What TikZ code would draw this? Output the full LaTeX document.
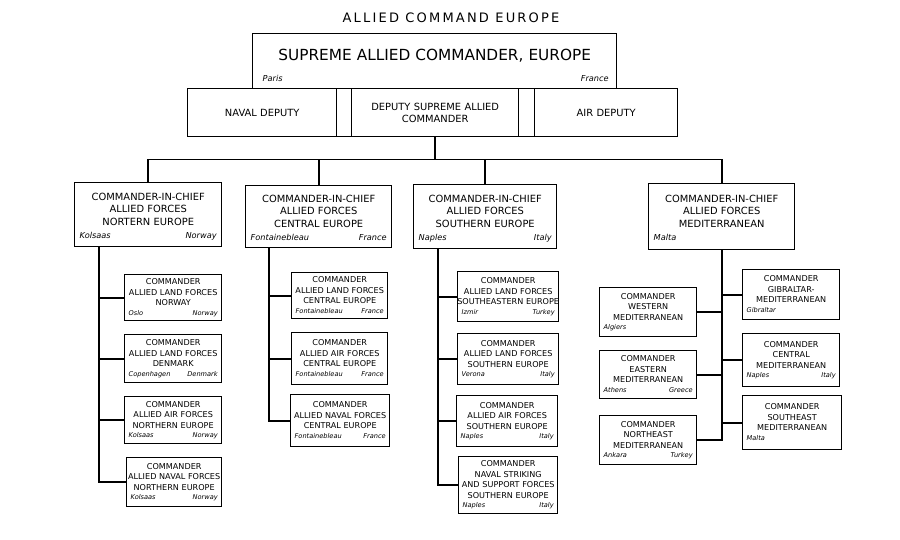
\documentclass[tikz,border=0pt]{standalone}
\usepackage{fontspec}
\setmainfont{DejaVu Sans}
\newcommand{\bigcity}[2]{{\fontsize{8.2}{9}\selectfont\itshape\hspace*{4pt}#1\hfill#2\hspace*{4pt}\rule[-2pt]{0pt}{2pt}}}
\newcommand{\smallcity}[2]{{\fontsize{6.6}{8}\selectfont\itshape\hspace*{3pt}#1\hfill#2\hspace*{3pt}\rule[-1.8pt]{0pt}{1.8pt}}}

\begin{document}
\begin{tikzpicture}[x=1pt, y=-1pt,
  link/.style={line width=1.6pt},
  orgbox/.style 2 args={draw, line width=1.4pt, anchor=north west, inner xsep=1pt, inner ysep=0pt, align=center,
    minimum width=#1pt, minimum height=#2pt, /utils/exec={\pgfmathsetlengthmacro\boxtw{#1pt-2pt}}, text width=\boxtw},
  chief/.style 2 args={orgbox={#1}{#2}, font=\fontsize{9.9}{12.5}\selectfont},
  cmd/.style 2 args={orgbox={#1}{#2}, font=\fontsize{8.1}{10.6}\selectfont}]
\useasboundingbox (0,0) rectangle (900,540);

% top of the command
\node[font=\fontsize{13}{15}\selectfont\addfontfeature{LetterSpace=17}] (title) at (451,18) {ALLIED COMMAND EUROPE};
\node[orgbox={364}{55}, font=\fontsize{15.3}{18.4}\selectfont] (saceur) at (252,33)
  {\rule{0pt}{22pt}SUPREME ALLIED COMMANDER, EUROPE\\[2pt]{\fontsize{8.2}{9}\selectfont\itshape\hspace*{9pt}Paris\hfill France\hspace*{7pt}\rule[-2pt]{0pt}{2pt}}};
\node[chief={149}{48}] (navdep) at (187,88) {NAVAL DEPUTY};
\node[chief={198}{48}] (dsacbar) at (336,88) {};
\node[chief={167}{48}] (dsac) at (351,88) {DEPUTY SUPREME ALLIED\\COMMANDER};
\node[chief={143}{48}] (airdep) at (534,88) {AIR DEPUTY};

% major subordinate commands
\node[chief={147}{64}] (afnorth) at (74,182) {\rule{0pt}{12pt}COMMANDER-IN-CHIEF\\ALLIED FORCES\\NORTERN EUROPE\\[1pt]\bigcity{Kolsaas}{Norway}};
\node[chief={146}{62}] (afcent) at (245,185) {\rule{0pt}{12pt}COMMANDER-IN-CHIEF\\ALLIED FORCES\\CENTRAL EUROPE\\[1pt]\bigcity{Fontainebleau}{France}};
\node[chief={143}{64}] (afsouth) at (413,184) {\rule{0pt}{12pt}COMMANDER-IN-CHIEF\\ALLIED FORCES\\SOUTHERN EUROPE\\[1pt]\bigcity{Naples}{Italy}};
\node[chief={146}{66}] (afmed) at (648,183) {\rule{0pt}{12pt}COMMANDER-IN-CHIEF\\ALLIED FORCES\\MEDITERRANEAN\\[1pt]\bigcity{Malta}{\mbox{}}};

\coordinate (bus) at ([yshift=-22pt]dsac.south);
\draw[link] (dsac.south) -- (bus);
\draw[link] (afnorth.north) |- (bus) -| (afmed.north);
\draw[link] (afcent.north) -- (afcent.north |- bus);
\draw[link] (afsouth.north) -- (afsouth.north |- bus);

% northern europe
\node[cmd={97}{46}] (lfnor) at (124,274) {COMMANDER\\ALLIED LAND FORCES\\NORWAY\\[-1.2pt]\smallcity{Oslo}{Norway}};
\node[cmd={97}{48}] (lfden) at (124,334) {COMMANDER\\ALLIED LAND FORCES\\DENMARK\\[-1.2pt]\smallcity{Copenhagen}{Denmark}};
\node[cmd={97}{47}] (aanorth) at (124,396) {COMMANDER\\ALLIED AIR FORCES\\NORTHERN EUROPE\\[-1.2pt]\smallcity{Kolsaas}{Norway}};
\node[cmd={95}{49}] (navnorth) at (126,457) {COMMANDER\\ALLIED NAVAL FORCES\\NORTHERN EUROPE\\[-1.2pt]\smallcity{Kolsaas}{Norway}};
\coordinate (ntrunk) at ([xshift=25pt]afnorth.south west);
\draw[link] (ntrunk) |- (navnorth.west);
\foreach \k in {lfnor,lfden,aanorth}
  \draw[link] (\k.west) -- (\k.west -| ntrunk);

% central europe
\node[cmd={96}{46}] (lfcent) at (291,272) {COMMANDER\\ALLIED LAND FORCES\\CENTRAL EUROPE\\[-1.2pt]\smallcity{Fontainebleau}{France}};
\node[cmd={96}{52}] (aacent) at (291,332) {COMMANDER\\ALLIED AIR FORCES\\CENTRAL EUROPE\\[-1.2pt]\smallcity{Fontainebleau}{France}};
\node[cmd={99}{52}] (navcent) at (290,394) {COMMANDER\\ALLIED NAVAL FORCES\\CENTRAL EUROPE\\[-1.2pt]\smallcity{Fontainebleau}{France}};
\coordinate (ctrunk) at ([xshift=24pt]afcent.south west);
\draw[link] (ctrunk) |- (navcent.west);
\foreach \k in {lfcent,aacent}
  \draw[link] (\k.west) -- (\k.west -| ctrunk);

% southern europe
\node[cmd={101}{50}] (lfse) at (457,271) {COMMANDER\\ALLIED LAND FORCES\\\leavevmode\hbox to\hsize{\hss SOUTHEASTERN EUROPE\hss}\\[-1.2pt]\smallcity{Izmir}{Turkey}};
\node[cmd={101}{51}] (lfsouth) at (457,333) {COMMANDER\\ALLIED LAND FORCES\\SOUTHERN EUROPE\\[-1.2pt]\smallcity{Verona}{Italy}};
\node[cmd={101}{51}] (aasouth) at (456,395) {COMMANDER\\ALLIED AIR FORCES\\SOUTHERN EUROPE\\[-1.2pt]\smallcity{Naples}{Italy}};
\node[cmd={99}{57}] (strike) at (458,456) {COMMANDER\\NAVAL STRIKING\\AND SUPPORT FORCES\\SOUTHERN EUROPE\\[-1.2pt]\smallcity{Naples}{Italy}};
\coordinate (strunk) at ([xshift=25pt]afsouth.south west);
\draw[link] (strunk) |- (strike.west);
\foreach \k in {lfse,lfsouth,aasouth}
  \draw[link] (\k.west) -- (\k.west -| strunk);

% mediterranean
\node[cmd={97}{49}] (medwest) at (599,287) {COMMANDER\\WESTERN\\MEDITERRANEAN\\[-1.2pt]\smallcity{Algiers}{\mbox{}}};
\node[cmd={97}{48}] (medeast) at (599,350) {COMMANDER\\EASTERN\\MEDITERRANEAN\\[-1.2pt]\smallcity{Athens}{Greece}};
\node[cmd={97}{49}] (medne) at (599,415) {COMMANDER\\NORTHEAST\\MEDITERRANEAN\\[-1.2pt]\smallcity{Ankara}{Turkey}};
\node[cmd={97}{50}] (gibmed) at (742,269) {COMMANDER\\GIBRALTAR-\\MEDITERRANEAN\\[-1.2pt]\smallcity{Gibraltar}{\mbox{}}};
\node[cmd={97}{53}] (cenmed) at (742,333) {COMMANDER\\CENTRAL\\MEDITERRANEAN\\[-1.2pt]\smallcity{Naples}{Italy}};
\node[cmd={99}{54}] (semed) at (742,395) {COMMANDER\\SOUTHEAST\\MEDITERRANEAN\\[-1.2pt]\smallcity{Malta}{\mbox{}}};
\draw[link] (afmed.south) |- (medne.east);
\foreach \k in {medwest,medeast}
  \draw[link] (\k.east) -- (\k.east -| afmed.south);
\foreach \k in {gibmed,cenmed,semed}
  \draw[link] (\k.west) -- (\k.west -| afmed.south);
\end{tikzpicture}
\end{document}
